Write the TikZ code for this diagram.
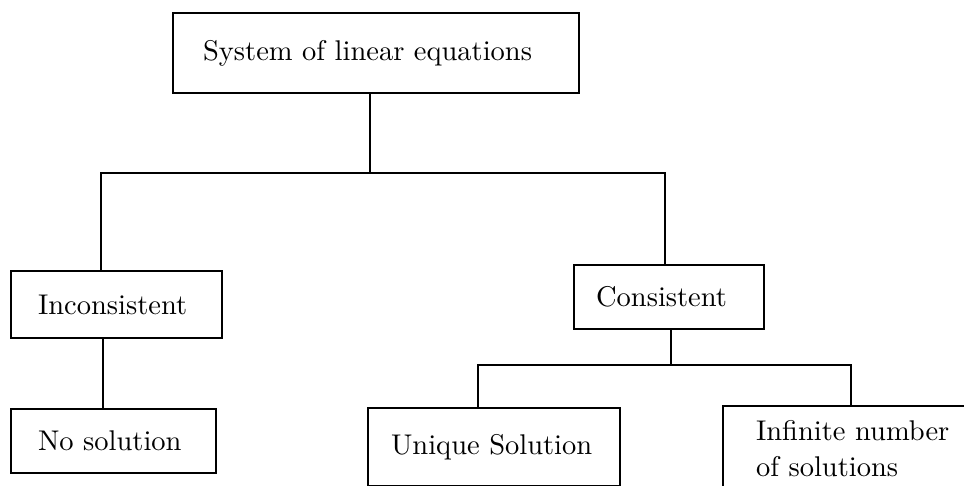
\documentclass[tikz,border=0pt]{standalone}
\usepackage{fontspec}
\setmainfont{lmroman10-regular.otf}
\begin{document}
\begin{tikzpicture}[x=1pt,y=-1pt,
  box/.style={draw, line width=2.2pt, anchor=north west, align=left,
    font=\fontsize{28.5}{36}\selectfont, inner ysep=0pt},
  conn/.style={line width=2pt}]
\useasboundingbox (0,0) rectangle (964,486);
\clip (0,0) rectangle (964,486);
\node[box, inner xsep=30pt, text width=346pt, minimum height=80pt] (top) at (172,12) {System of linear equations};
\node[box, inner xsep=27pt, text width=157pt, minimum height=67pt] (incon) at (10,270) {Inconsistent};
\node[box, inner xsep=27pt, text width=151pt, minimum height=64pt] (nosol) at (10,408) {No solution};
\node[box, inner xsep=22pt, text width=146pt, minimum height=64pt] (cons) at (573,264) {Consistent};
\node[box, inner xsep=23pt, text width=206pt, minimum height=78pt] (uniq) at (367,407) {Unique Solution};
\node[box, inner xsep=33pt, text width=260pt, minimum height=86pt] (inf) at (722,405) {Infinite number\\of solutions};
\coordinate (j0) at (370,173);
\coordinate (jL) at (101,173);
\coordinate (jR) at (665,173);
\draw[conn] (j0 |- top.south) -- (j0);
\draw[conn] (jL |- incon.north) -- (jL) -- (jR) -- (jR |- cons.north);
\coordinate (k) at (103,0);
\draw[conn] (k |- incon.south) -- (k |- nosol.north);
\coordinate (c0) at (671,365);
\coordinate (cL) at (478,365);
\coordinate (cR) at (851,365);
\draw[conn] (c0 |- cons.south) -- (c0);
\draw[conn] (cL |- uniq.north) -- (cL) -- (cR) -- (cR |- inf.north);
\end{tikzpicture}
\end{document}
